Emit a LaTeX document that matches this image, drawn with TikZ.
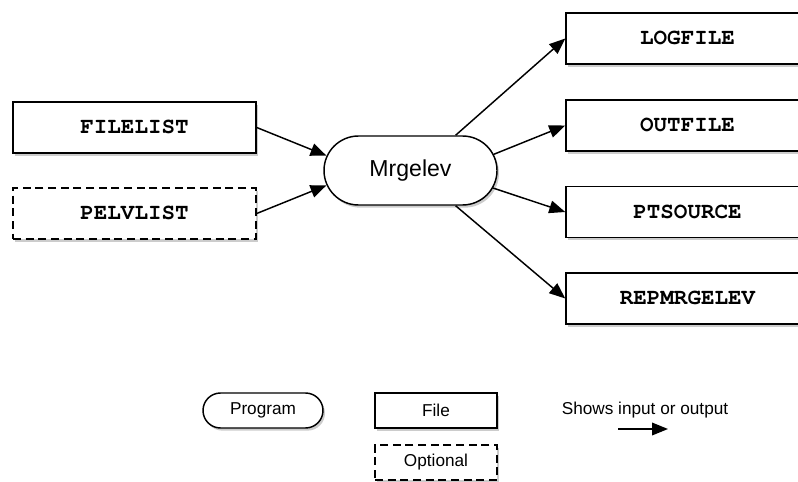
\documentclass[tikz,border=0pt]{standalone}
\usepackage{fontspec}
\setmainfont{Liberation Sans}
\newcommand{\filefont}{\fontencoding{T1}\fontfamily{pcr}\fontseries{b}\selectfont}
\usetikzlibrary{arrows.meta, positioning, shapes.misc, shadows}

\begin{document}
\begin{tikzpicture}[x=0.75pt, y=-0.75pt,
  filebox/.style={draw, line width=1.1pt, fill=white, inner sep=0pt,
    minimum width=182.25pt, minimum height=38.25pt, font=\filefont\fontsize{16.9}{18}\selectfont,
    drop shadow={shadow xshift=1.5pt, shadow yshift=-2pt, opacity=0.4}},
  optbox/.style={filebox, dash pattern=on 6pt off 3.5pt},
  progbox/.style={draw, rounded rectangle, line width=1.1pt, fill=white, inner sep=0pt,
    minimum width=129.75pt, minimum height=51.75pt, font=\fontsize{17.3}{19}\selectfont,
    drop shadow={shadow xshift=1.5pt, shadow yshift=-2pt, opacity=0.4}},
  legbox/.style={draw, line width=1.1pt, fill=white, inner sep=0pt,
    minimum width=91.5pt, minimum height=26.25pt, font=\fontsize{12.9}{14}\selectfont,
    drop shadow={shadow xshift=1.5pt, shadow yshift=-2pt, opacity=0.4}},
  flow/.style={-{Triangle[length=12pt, width=9.5pt]}, line width=1.1pt}]
  \useasboundingbox (0,0) rectangle (798,481);
  \clip (0,0) rectangle (798,481);

  % Inputs
  \node[filebox] (filelist) at (134.5,127.5) {FILELIST};
  \node[optbox] (pelvlist) at (134.5,213.5) {PELVLIST};

  % Program
  \node[progbox] (prog) at (410.5,170.5) {Mrgelev};

  % Outputs
  \node[filebox] (logfile) at (687.5,38.5) {LOGFILE};
  \node[filebox] (outfile) at (687.5,125.5) {OUTFILE};
  \node[filebox] (ptsource) at (687.5,212) {PTSOURCE};
  \node[filebox] (repmrgelev) at (687.5,298.5) {REPMRGELEV};

  % Arrows
  \draw[flow] (filelist.east) -- (prog.170);
  \draw[flow] (pelvlist.east) -- (prog.190);
  \draw[flow] (prog.38) -- (logfile.west);
  \draw[flow] (prog.11) -- (outfile.west);
  \draw[flow] (prog.-12) -- (ptsource.west);
  \draw[flow] (prog.-38) -- (repmrgelev.west);

  % Legend
  \node[legbox, rounded rectangle, minimum width=90pt] (legprog) at (263,410.5) {Program};
  \node[legbox] (legfile) at (436,410.5) {File};
  \node[legbox, dash pattern=on 6pt off 3.5pt] (legopt) at (436,462.5) {Optional};
  \node[font=\fontsize{12.9}{14}\selectfont] (legtext) at (645,410) {Shows input or output};
  \coordinate (legfrom) at (618,429);
  \coordinate (legto) at (668,429);
  \draw[flow] (legfrom) -- (legto);
\end{tikzpicture}
\end{document}
